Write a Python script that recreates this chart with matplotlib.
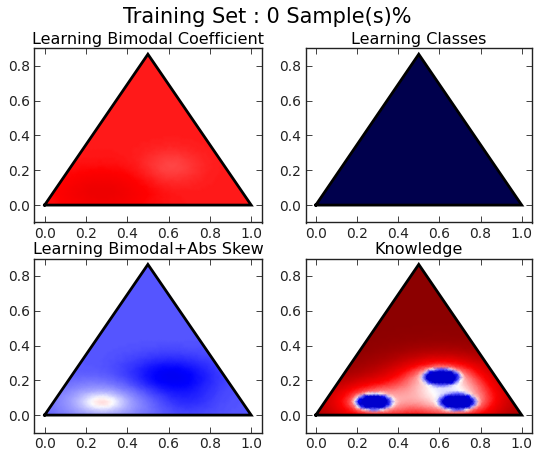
import numpy as np
import matplotlib
matplotlib.use("Agg")
import matplotlib.pyplot as plt
import matplotlib.tri as mtri

# ---- data ----
suptitle = "Training Set : 0 Sample(s)%"
panel_titles = ["Learning Bimodal Coefficient", "Learning Classes",
                "Learning Bimodal+Abs Skew", "Knowledge"]

# simplex outline
tri_x = [0.0, 1.0, 0.5, 0.0]
tri_y = [0.0, 0.0, 0.866, 0.0]

# locations of the three features seen in the fields
feat_x = [0.28, 0.61, 0.69]
feat_y = [0.075, 0.22, 0.075]

# per-panel field description (colour value on seismic scale, 0..1)
# Bimodal coefficient: base value + broad bumps at each feature
bc_base = 0.725
bc_amp = [0.06, -0.045, 0.0]
bc_sx = [0.16, 0.10, 0.10]
bc_sy = [0.09, 0.07, 0.07]

# Classes: uniform
cl_base = 0.0

# Bimodal + abs skew
sk_base = 0.335
sk_amp = [0.09, -0.10, -0.03]
sk_sx = [0.06, 0.15, 0.10]
sk_sy = [0.03, 0.08, 0.06]
sk_amp2 = [0.11, 0.0, 0.0]
sk_sx2 = [0.16, 0.1, 0.1]
sk_sy2 = [0.08, 0.1, 0.1]

# Knowledge
kn_top = 0.975
kn_broad_amp = [0.20, 0.20, 0.20]
kn_broad_sx = [0.20, 0.20, 0.20]
kn_broad_sy = [0.10, 0.10, 0.10]
kn_ring_amp = [0.17, 0.17, 0.17]
kn_ring_sx = [0.12, 0.12, 0.12]
kn_ring_sy = [0.065, 0.065, 0.065]
kn_core_amp = [0.8, 0.8, 0.8]
kn_core_sx = [0.08, 0.08, 0.08]
kn_core_sy = [0.043, 0.043, 0.043]
kn_floor = 0.18

# ---- mesh over the simplex ----
n = 56
px, py = [], []
for i in range(n + 1):
    for j in range(n + 1 - i):
        a = i / n
        b = j / n
        px.append(a + 0.5 * b)
        py.append(0.866 * b)
px = np.array(px)
py = np.array(py)
tri = mtri.Triangulation(px, py)


def gauss(cx, cy, sx, sy):
    return np.exp(-0.5 * (((px - cx) / sx) ** 2 + ((py - cy) / sy) ** 2))


def sharp(cx, cy, sx, sy):
    r2 = ((px - cx) / sx) ** 2 + ((py - cy) / sy) ** 2
    return np.exp(-(r2 ** 2))


f_bc = np.full_like(px, bc_base)
for k in range(3):
    f_bc += bc_amp[k] * gauss(feat_x[k], feat_y[k], bc_sx[k], bc_sy[k])

f_cl = np.full_like(px, cl_base)

f_sk = np.full_like(px, sk_base)
for k in range(3):
    f_sk += sk_amp[k] * gauss(feat_x[k], feat_y[k], sk_sx[k], sk_sy[k])
    f_sk += sk_amp2[k] * gauss(feat_x[k], feat_y[k], sk_sx2[k], sk_sy2[k])

f_kn = np.full_like(px, kn_top)
for k in range(3):
    f_kn -= kn_broad_amp[k] * gauss(feat_x[k], feat_y[k], kn_broad_sx[k], kn_broad_sy[k])
    f_kn -= kn_ring_amp[k] * gauss(feat_x[k], feat_y[k], kn_ring_sx[k], kn_ring_sy[k])
    f_kn -= kn_core_amp[k] * sharp(feat_x[k], feat_y[k], kn_core_sx[k], kn_core_sy[k])
f_kn = np.clip(f_kn, kn_floor, 1.0)

fields = [f_bc, f_cl, f_sk, f_kn]

# ---- figure ----
fig = plt.figure(figsize=(5.35, 4.53), dpi=100)
W, H = 535.0, 453.0
boxes = [(34.3, 48.3, 261.5, 222.5), (305.5, 48.3, 532.0, 222.5),
         (34.3, 258.5, 261.5, 432.5), (305.5, 258.5, 532.0, 432.5)]

for k in range(4):
    x0, y0, x1, y1 = boxes[k]
    ax = fig.add_axes([x0 / W, 1 - y1 / H, (x1 - x0) / W, (y1 - y0) / H])
    ax.tripcolor(tri, fields[k], shading="gouraud", cmap="seismic",
                 vmin=0.0, vmax=1.0, rasterized=True)
    ax.plot(tri_x, tri_y, color="black", lw=2.0, solid_joinstyle="miter")
    ax.set_xlim(-0.05, 1.05)
    ax.set_ylim(-0.1, 0.9)
    ax.set_xticks([0.0, 0.2, 0.4, 0.6, 0.8, 1.0])
    ax.set_yticks([0.0, 0.2, 0.4, 0.6, 0.8])
    ax.xaxis.set_major_formatter(matplotlib.ticker.FormatStrFormatter("%.1f"))
    ax.yaxis.set_major_formatter(matplotlib.ticker.FormatStrFormatter("%.1f"))
    ax.tick_params(direction="in", top=True, right=True, length=4,
                   width=0.6, labelsize=10, colors="#222222", pad=3)
    for s in ax.spines.values():
        s.set_linewidth(1.0)
        s.set_color("#222222")
    ax.set_title(panel_titles[k], fontsize=11.5, pad=3)

fig.suptitle(suptitle, fontsize=15, y=0.984)
fig.savefig("out.png", dpi=100)
